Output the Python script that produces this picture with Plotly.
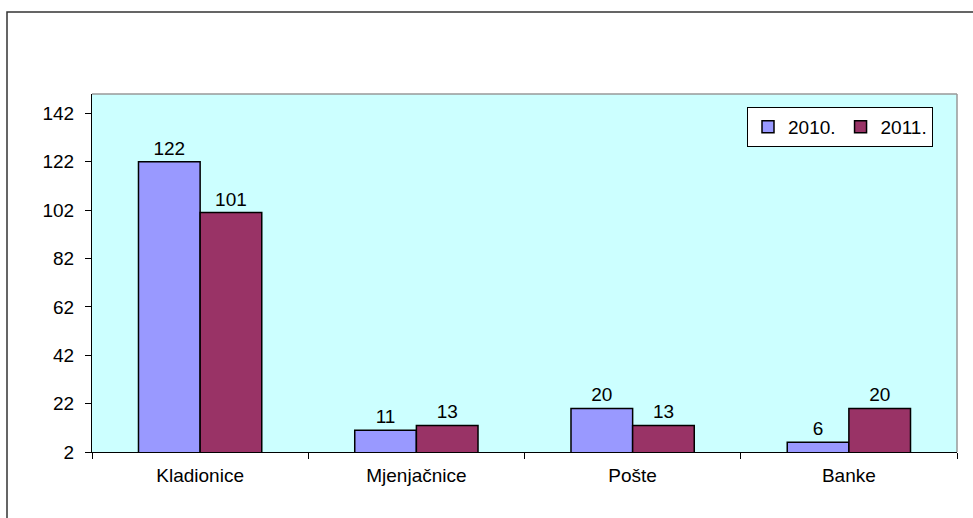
import plotly.graph_objects as go

categories = ["Kladionice", "Mjenjačnice", "Pošte", "Banke"]
values_2010 = [122, 11, 20, 6]
values_2011 = [101, 13, 13, 20]
series_names = ["2010.", "2011."]
y_ticks = [2, 22, 42, 62, 82, 102, 122, 142]

W, H = 973, 518
ml, mr, mt, mb = 92, 16, 94, 66
pw, ph = W - ml - mr, H - mt - mb

FONT = "Liberation Sans, Arial, sans-serif"
FS = 19

fig = go.Figure()
for name, vals, col in [(series_names[0], values_2010, "#9999FF"),
                        (series_names[1], values_2011, "#993366")]:
    fig.add_trace(go.Bar(
        x=categories, y=vals, name=name,
        marker=dict(color=col, line=dict(color="black", width=1.5)),
        text=[str(v) for v in vals], textposition="outside",
        textfont=dict(size=FS, color="black", family=FONT),
        cliponaxis=False,
    ))

def px_x(p):
    return (p - ml) / pw

def px_y(p):
    return (H - mb - p) / ph

fig.update_layout(
    width=W, height=H,
    margin=dict(l=ml, r=mr, t=mt, b=mb),
    paper_bgcolor="white", plot_bgcolor="#CCFFFF",
    barmode="group", bargap=0.43, bargroupgap=0,
    font=dict(family=FONT, size=FS, color="black"),
    showlegend=True,
    legend=dict(
        orientation="h", x=px_x(933), xanchor="right", y=px_y(107), yanchor="top",
        bgcolor="white", bordercolor="black", borderwidth=1,
        font=dict(size=FS, family=FONT), itemwidth=30,
    ),
    xaxis=dict(
        showline=True, linecolor="black", linewidth=1,
        ticks="outside", tickson="boundaries", ticklen=6, tickcolor="black",
        showgrid=False, tickfont=dict(size=FS), fixedrange=True,
        ticklabelstandoff=6,
    ),
    yaxis=dict(
        range=[2, 150], tickvals=y_ticks,
        showline=True, linecolor="black", linewidth=1,
        ticks="outside", ticklen=6, tickcolor="black",
        showgrid=False, zeroline=False, tickfont=dict(size=FS),
        ticklabelstandoff=7,
    ),
    shapes=[
        dict(type="rect", xref="paper", yref="paper",
             x0=px_x(7), x1=px_x(990), y0=px_y(12), y1=px_y(540),
             line=dict(color="#333333", width=1.5), layer="below"),
        dict(type="line", xref="paper", yref="paper", x0=0, x1=1, y0=1, y1=1,
             line=dict(color="#999999", width=1.5)),
        dict(type="line", xref="paper", yref="paper", x0=1, x1=1, y0=0, y1=1,
             line=dict(color="#999999", width=1.5)),
    ],
)

fig.write_html(
    "out.html",
    config={"displayModeBar": False},
    post_script="document.body.style.margin='0';document.body.style.overflow='hidden';",
)
